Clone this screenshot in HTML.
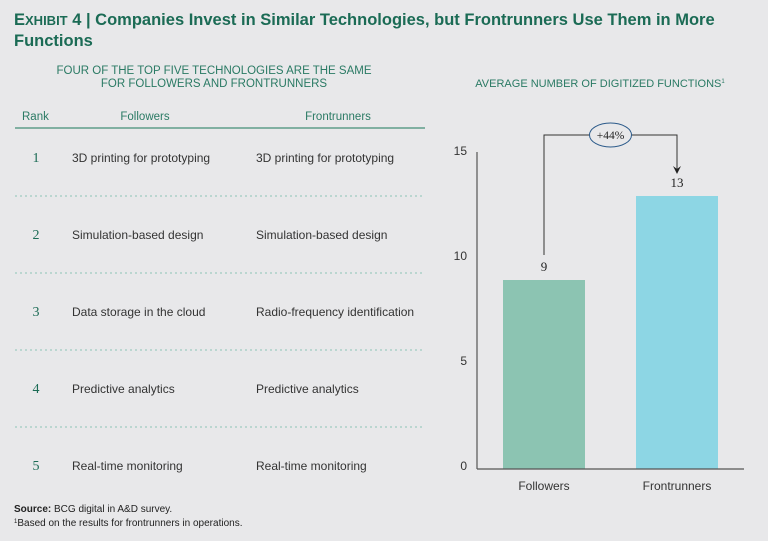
<!DOCTYPE html>
<html><head><meta charset="utf-8"><style>
html,body{margin:0;padding:0;background:#e8e8ea;}
body{width:768px;height:541px;overflow:hidden;position:relative;font-family:"Liberation Sans",sans-serif;}
svg{position:absolute;left:0;top:0;}
</style></head><body>
<svg width="768" height="541" id="svg">
<text x="14" y="25" font-size="16.5" font-weight="bold" fill="#1b6b55"><tspan>E</tspan><tspan font-size="13">XHIBIT</tspan> 4 | Companies Invest in Similar Technologies, but Frontrunners Use Them in More</text>
<text x="14" y="46" font-size="16.5" font-weight="bold" fill="#1b6b55">Functions</text>
<text x="214" y="74" font-size="11.5" fill="#2a7a64" text-anchor="middle">FOUR OF THE TOP FIVE TECHNOLOGIES ARE THE SAME</text>
<text x="214" y="87" font-size="11.5" fill="#2a7a64" text-anchor="middle">FOR FOLLOWERS AND FRONTRUNNERS</text>
<text x="600" y="87" font-size="11" fill="#2a7a64" text-anchor="middle">AVERAGE NUMBER OF DIGITIZED FUNCTIONS<tspan font-size="6" dy="-4">1</tspan></text>
<text x="22" y="120" font-size="11.5" fill="#2a7a64">Rank</text>
<text x="145" y="120" font-size="11.5" fill="#2a7a64" text-anchor="middle">Followers</text>
<text x="338" y="120" font-size="11.5" fill="#2a7a64" text-anchor="middle">Frontrunners</text>
<line x1="15" y1="128" x2="425" y2="128" stroke="#5f9e8a" stroke-width="1.5"/>
<g id="table"></g>
<g id="chart"></g>
<text x="14" y="512" font-size="10" fill="#222"><tspan font-weight="bold">Source:</tspan> BCG digital in A&amp;D survey.</text>
<text x="14" y="526" font-size="10" fill="#222"><tspan font-size="6" dy="-3">1</tspan><tspan dy="3">Based on the results for frontrunners in operations.</tspan></text>
</svg>
<script>
const ranks=["1","2","3","4","5"];
const followers=["3D printing for prototyping","Simulation-based design","Data storage in the cloud","Predictive analytics","Real-time monitoring"];
const frontrunners=["3D printing for prototyping","Simulation-based design","Radio-frequency identification","Predictive analytics","Real-time monitoring"];
const categories=["Followers","Frontrunners"];
const values=[9,13];
const yTicks=[0,5,10,15];
const changeLabel="+44%";
const NS="http://www.w3.org/2000/svg";
function mk(tag,attrs,parent,text){const e=document.createElementNS(NS,tag);for(const k in attrs)e.setAttribute(k,attrs[k]);if(text!==undefined)e.textContent=text;parent.appendChild(e);return e;}
const tb=document.getElementById('table');
ranks.forEach((r,i)=>{
  const y=162+i*77;
  let t=mk('text',{x:36,y:y,'font-size':14,fill:'#1b6b55','font-family':'Liberation Serif, serif','text-anchor':'middle'},tb,r);
  
  
  t=mk('text',{x:72,y:y,'font-size':12,fill:'#333'},tb,followers[i]);
  
  
  t=mk('text',{x:256,y:y,'font-size':12,fill:'#333'},tb,frontrunners[i]);
  
  
  if(i<4){const l=mk('line',{x1:15,x2:425,y1:196+i*77,y2:196+i*77,stroke:'#8cc5b5','stroke-dasharray':'2,3'},tb);
  
  }
});
const ch=document.getElementById('chart');
const y0=469,unit=21;
const ys=v=>y0-v*unit;
const xs=i=>503+i*133;
const bw=82;
const colors=['#8cc4b2','#8dd6e4'];
let a=mk('line',{x1:477,x2:477,y1:152,y2:y0,stroke:'#555','stroke-width':1.2},ch);


yTicks.forEach(t=>{const e=mk('text',{x:467,y:ys(t)+1,'font-size':12,fill:'#333','text-anchor':'end'},ch,t);

});
values.forEach((v,i)=>{
  const r=mk('rect',{x:xs(i),y:ys(v),width:bw,height:y0-ys(v),fill:colors[i]},ch);
  
  
  const t=mk('text',{x:xs(i)+bw/2,y:ys(v)-9,'font-size':13,fill:'#222','text-anchor':'middle','font-family':'Liberation Serif, serif'},ch,v);
  
  
  const c=mk('text',{x:xs(i)+bw/2,y:490,'font-size':12,fill:'#333','text-anchor':'middle'},ch,categories[i]);
  
  
});
a=mk('line',{x1:477,x2:744,y1:y0,y2:y0,stroke:'#555','stroke-width':1.2},ch);


const lx=xs(0)+bw/2,rx=xs(1)+bw/2,by=135;
const p=mk('path',{d:`M${lx} ${ys(values[0])-25} V${by} H${rx} V${ys(values[1])-24}`,fill:'none',stroke:'#333','stroke-width':1},ch);


const ah=mk('path',{d:`M${rx-4} ${ys(values[1])-30} L${rx} ${ys(values[1])-22} L${rx+4} ${ys(values[1])-30} L${rx} ${ys(values[1])-27}Z`,fill:'#222'},ch);


const el=mk('ellipse',{cx:(lx+rx)/2,cy:by,rx:21,ry:12,fill:'#e8e8ea',stroke:'#2b5a8a','stroke-width':1},ch);


const ct=mk('text',{x:(lx+rx)/2,y:by+4,'font-size':11.5,fill:'#222','text-anchor':'middle','font-family':'Liberation Serif, serif'},ch,changeLabel);


</script>
</body></html>
